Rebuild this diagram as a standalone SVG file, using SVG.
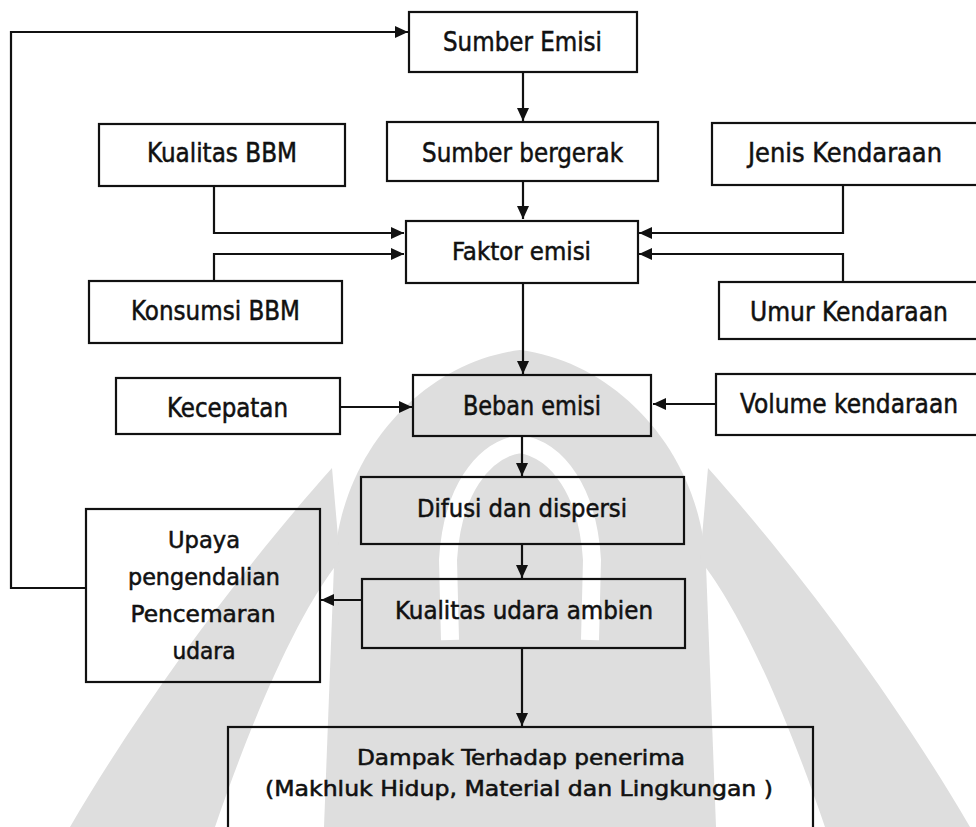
<svg xmlns="http://www.w3.org/2000/svg" width="976" height="827" viewBox="0 0 976 827">
<style>
.box{fill:none;stroke:#111;stroke-width:2.2}
.t{font-family:"DejaVu Sans Condensed","DejaVu Sans",sans-serif;fill:#111;stroke:#111;stroke-width:0.5;text-anchor:middle}
.c{fill:none;stroke:#111;stroke-width:2.2}
.wm{fill:#dedede;stroke:none}
</style>
<defs>
<marker id="ah" markerUnits="userSpaceOnUse" markerWidth="14" markerHeight="12" refX="13" refY="6" orient="auto">
<path d="M0,0 L13,6 L0,12 Z" fill="#111"/>
</marker>
<g id="horn">
<path class="wm" d="M332,468 C250,560 150,690 70,827 L215,827 C255,710 300,610 340,560 Z"/>
</g>
</defs>
<rect width="976" height="827" fill="#fff"/>

<g id="watermark">
<path class="wm" d="M520,350 C615,362 700,450 706,565 L716,827 L324,827 L334,565 C340,450 425,362 520,350 Z"/>
<path d="M450,640 L448,560 C452,492 482,450 520,444 C558,450 588,492 592,560 L590,640" fill="none" stroke="#fff" stroke-width="18"/>
<use href="#horn"/>
<use href="#horn" transform="translate(1040,0) scale(-1,1)"/>
</g>

<g id="connectors">
<path class="c" d="M86,588 H11 V32 H408" marker-end="url(#ah)"/>
<path class="c" d="M523,72 V121" marker-end="url(#ah)"/>
<path class="c" d="M523,181 V219" marker-end="url(#ah)"/>
<path class="c" d="M214,186 V233 H404" marker-end="url(#ah)"/>
<path class="c" d="M214,281 V254 H404" marker-end="url(#ah)"/>
<path class="c" d="M843,185 V233 H639" marker-end="url(#ah)"/>
<path class="c" d="M843,282 V254 H639" marker-end="url(#ah)"/>
<path class="c" d="M523,283 V374" marker-end="url(#ah)"/>
<path class="c" d="M340,407 H412" marker-end="url(#ah)"/>
<path class="c" d="M716,404 H653" marker-end="url(#ah)"/>
<path class="c" d="M522,436 V476" marker-end="url(#ah)"/>
<path class="c" d="M522,545 V578" marker-end="url(#ah)"/>
<path class="c" d="M362,600 H321" marker-end="url(#ah)"/>
<path class="c" d="M522,648 V726" marker-end="url(#ah)"/>
</g>

<g id="sumber-emisi"><rect class="box" x="409" y="12" width="228" height="60"/><text class="t" x="522.5" y="51" font-size="27" textLength="159" lengthAdjust="spacingAndGlyphs">Sumber Emisi</text></g>
<g id="kualitas-bbm"><rect class="box" x="99" y="124" width="246" height="62"/><text class="t" x="222" y="162" font-size="27" textLength="150" lengthAdjust="spacingAndGlyphs">Kualitas BBM</text></g>
<g id="sumber-bergerak"><rect class="box" x="387" y="122" width="271" height="59"/><text class="t" x="522.5" y="162" font-size="27" textLength="201" lengthAdjust="spacingAndGlyphs">Sumber bergerak</text></g>
<g id="jenis-kendaraan"><rect class="box" x="712" y="123" width="268" height="62"/><text class="t" x="845" y="162" font-size="27" textLength="194" lengthAdjust="spacingAndGlyphs">Jenis Kendaraan</text></g>
<g id="faktor-emisi"><rect class="box" x="406" y="221" width="232" height="62"/><text class="t" x="521.5" y="260" font-size="25" textLength="139" lengthAdjust="spacingAndGlyphs">Faktor emisi</text></g>
<g id="konsumsi-bbm"><rect class="box" x="89" y="281" width="253" height="62"/><text class="t" x="215.5" y="320" font-size="27" textLength="169" lengthAdjust="spacingAndGlyphs">Konsumsi BBM</text></g>
<g id="umur-kendaraan"><rect class="box" x="719" y="282" width="261" height="57"/><text class="t" x="849" y="321" font-size="26" textLength="198" lengthAdjust="spacingAndGlyphs">Umur Kendaraan</text></g>
<g id="kecepatan"><rect class="box" x="116" y="378" width="224" height="56"/><text class="t" x="227.5" y="417" font-size="26" textLength="121" lengthAdjust="spacingAndGlyphs">Kecepatan</text></g>
<g id="beban-emisi"><rect class="box" x="413" y="375" width="238" height="61"/><text class="t" x="532" y="415" font-size="26" textLength="138" lengthAdjust="spacingAndGlyphs">Beban emisi</text></g>
<g id="volume-kendaraan"><rect class="box" x="716" y="374" width="264" height="61"/><text class="t" x="849" y="413" font-size="26" textLength="218" lengthAdjust="spacingAndGlyphs">Volume kendaraan</text></g>
<g id="difusi"><rect class="box" x="361" y="477" width="323" height="67"/><text class="t" x="522" y="517" font-size="25" textLength="210" lengthAdjust="spacingAndGlyphs">Difusi dan dispersi</text></g>
<g id="upaya"><rect class="box" x="86" y="509" width="234" height="173"/>
<text class="t" x="204" y="548" font-size="23" textLength="72" lengthAdjust="spacingAndGlyphs">Upaya</text>
<text class="t" x="204" y="585" font-size="23" textLength="152" lengthAdjust="spacingAndGlyphs">pengendalian</text>
<text class="t" x="203" y="622" font-size="23" textLength="145" lengthAdjust="spacingAndGlyphs">Pencemaran</text>
<text class="t" x="204" y="659" font-size="23" textLength="63" lengthAdjust="spacingAndGlyphs">udara</text></g>
<g id="kualitas-udara"><rect class="box" x="362" y="579" width="323" height="69"/><text class="t" x="524" y="619" font-size="24" textLength="258" lengthAdjust="spacingAndGlyphs">Kualitas udara ambien</text></g>
<g id="dampak"><rect class="box" x="228" y="727" width="585" height="120"/>
<text class="t" x="521" y="765" font-size="21" textLength="328" lengthAdjust="spacingAndGlyphs">Dampak Terhadap penerima</text>
<text class="t" x="519" y="796" font-size="21" textLength="508" lengthAdjust="spacingAndGlyphs">(Makhluk Hidup, Material dan Lingkungan )</text></g>
</svg>
